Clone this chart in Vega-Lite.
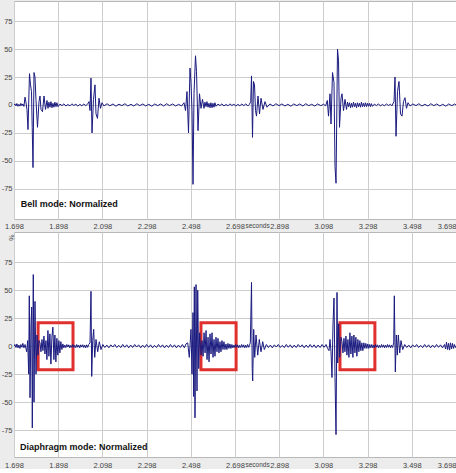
{
  "$schema": "https://vega.github.io/schema/vega-lite/v6.json",
  "background": "#ececec",
  "padding": {"left": 0, "top": 0, "right": 0, "bottom": 0},
  "bounds": "flush",
  "spacing": 13,
  "config": {
    "view": {"stroke": "#b8b8b8", "fill": "white"},
    "axis": {
      "labelFont": "Liberation Sans",
      "labelColor": "#444444",
      "labelOverlap": false,
      "gridColor": "#cdcdcd",
      "gridWidth": 1,
      "ticks": false,
      "domain": false,
      "titleFont": "Liberation Sans"
    }
  },
  "datasets": {
    "bell": [
      {"t":1.698,"v":0},{"t":1.702,"v":1},{"t":1.707,"v":-0.8},{"t":1.711,"v":1.3},{"t":1.716,"v":-1.2},{"t":1.720,"v":0.6},{"t":1.725,"v":-1},{"t":1.729,"v":1.4},{"t":1.734,"v":-0.6},{"t":1.738,"v":0.9},{"t":1.743,"v":-1.3},
      {"t":1.7478,"v":7},{"t":1.7523,"v":2},{"t":1.7568,"v":-4},{"t":1.7614,"v":-22},{"t":1.7681,"v":28},{"t":1.7727,"v":18},{"t":1.7772,"v":12},{"t":1.7804,"v":-20},{"t":1.7840,"v":-56},{"t":1.7885,"v":29},{"t":1.7930,"v":25},{"t":1.7976,"v":4},{"t":1.8043,"v":-20},{"t":1.8111,"v":3},{"t":1.8157,"v":8},{"t":1.8202,"v":-4},{"t":1.8270,"v":-6},{"t":1.8338,"v":8},{"t":1.8405,"v":-4},{"t":1.8473,"v":4},{"t":1.8519,"v":-3},
      {"t":1.856,"v":2.5},{"t":1.861,"v":-2},{"t":1.865,"v":3},{"t":1.870,"v":-2.5},{"t":1.874,"v":1.5},{"t":1.879,"v":-2},{"t":1.883,"v":2.5},{"t":1.888,"v":-1.5},{"t":1.892,"v":2},{"t":1.897,"v":-1.5},
      {"t":1.906,"v":0.8},{"t":1.915,"v":-0.6},{"t":1.924,"v":1},{"t":1.933,"v":-0.9},{"t":1.942,"v":0.5},{"t":1.951,"v":-0.8},{"t":1.960,"v":1},{"t":1.969,"v":-0.5},{"t":1.978,"v":0.7},{"t":1.987,"v":-1},{"t":1.996,"v":0.6},{"t":2.005,"v":-0.7},{"t":2.014,"v":0.8},{"t":2.023,"v":-0.6},{"t":2.032,"v":1},
      {"t":2.0374,"v":3},{"t":2.0419,"v":-5},{"t":2.0464,"v":24},{"t":2.0510,"v":-25},{"t":2.0577,"v":5},{"t":2.0645,"v":18},{"t":2.0691,"v":-8},{"t":2.0758,"v":-12},{"t":2.0826,"v":6},{"t":2.0894,"v":-3},{"t":2.0962,"v":2},
      {"t":2.105,"v":-0.9},{"t":2.119,"v":1.1},{"t":2.132,"v":-0.7},{"t":2.146,"v":0.9},{"t":2.159,"v":-1.1},{"t":2.173,"v":0.7},{"t":2.186,"v":-0.6},{"t":2.200,"v":1.1},{"t":2.213,"v":-0.9},{"t":2.227,"v":0.6},{"t":2.240,"v":-0.9},{"t":2.254,"v":1.1},{"t":2.267,"v":-0.6},{"t":2.281,"v":0.9},{"t":2.294,"v":-0.9},{"t":2.308,"v":0.6},{"t":2.321,"v":-1.1},{"t":2.335,"v":0.9},{"t":2.348,"v":-0.6},{"t":2.362,"v":0.9},{"t":2.375,"v":-0.9},{"t":2.389,"v":1.1},{"t":2.402,"v":-0.6},{"t":2.416,"v":0.9},{"t":2.429,"v":-0.9},{"t":2.443,"v":0.6},{"t":2.456,"v":-0.9},
      {"t":2.4673,"v":2},{"t":2.4741,"v":-5},{"t":2.4808,"v":12},{"t":2.4876,"v":-25},{"t":2.4944,"v":33},{"t":2.4989,"v":20},{"t":2.5035,"v":-5},{"t":2.5080,"v":-71},{"t":2.5125,"v":10},{"t":2.5193,"v":44},{"t":2.5238,"v":30},{"t":2.5306,"v":-23},{"t":2.5374,"v":10},{"t":2.5442,"v":-3},{"t":2.5510,"v":5},{"t":2.5578,"v":-3},
      {"t":2.562,"v":2.5},{"t":2.567,"v":-1.5},{"t":2.571,"v":3},{"t":2.576,"v":-2},{"t":2.580,"v":1.5},{"t":2.585,"v":-2.5},{"t":2.589,"v":2},{"t":2.594,"v":-2.5},{"t":2.598,"v":1.5},{"t":2.603,"v":-2},{"t":2.607,"v":2},{"t":2.612,"v":-1.2},
      {"t":2.621,"v":0.8},{"t":2.630,"v":-0.6},{"t":2.639,"v":1},{"t":2.648,"v":-0.9},{"t":2.657,"v":0.5},{"t":2.666,"v":-0.8},{"t":2.675,"v":1},{"t":2.684,"v":-0.5},{"t":2.693,"v":0.7},{"t":2.702,"v":-1},{"t":2.711,"v":0.6},{"t":2.720,"v":-0.7},{"t":2.729,"v":0.8},{"t":2.738,"v":-0.6},{"t":2.747,"v":1},{"t":2.756,"v":-0.9},{"t":2.763,"v":0.5},
      {"t":2.7691,"v":3},{"t":2.7727,"v":26},{"t":2.7772,"v":-29},{"t":2.7817,"v":21},{"t":2.7863,"v":18},{"t":2.7908,"v":-5},{"t":2.7953,"v":-10},{"t":2.8021,"v":8},{"t":2.8089,"v":-8},{"t":2.8157,"v":6},{"t":2.8247,"v":-4},{"t":2.8338,"v":3},{"t":2.8428,"v":-2},
      {"t":2.856,"v":0.9},{"t":2.870,"v":-0.9},{"t":2.883,"v":1.1},{"t":2.897,"v":-0.6},{"t":2.910,"v":0.9},{"t":2.924,"v":-0.9},{"t":2.937,"v":0.6},{"t":2.951,"v":-1.1},{"t":2.964,"v":0.9},{"t":2.978,"v":-0.6},{"t":2.991,"v":0.9},{"t":3.005,"v":-0.9},{"t":3.018,"v":1.1},{"t":3.032,"v":-0.6},{"t":3.045,"v":0.6},{"t":3.059,"v":-0.9},{"t":3.072,"v":0.9},{"t":3.086,"v":-0.6},{"t":3.099,"v":0.6},{"t":3.108,"v":-0.8},
      {"t":3.1157,"v":4},{"t":3.1211,"v":-10},{"t":3.1279,"v":10},{"t":3.1324,"v":-17},{"t":3.1392,"v":29},{"t":3.1460,"v":20},{"t":3.1505,"v":-55},{"t":3.1551,"v":-70},{"t":3.1618,"v":50},{"t":3.1664,"v":40},{"t":3.1709,"v":-20},{"t":3.1777,"v":6},{"t":3.1822,"v":10},{"t":3.1890,"v":-5},{"t":3.1958,"v":5},{"t":3.2026,"v":-4},
      {"t":3.207,"v":2.5},{"t":3.212,"v":-1.5},{"t":3.216,"v":2},{"t":3.221,"v":-2.5},{"t":3.225,"v":1.5},{"t":3.230,"v":-2},{"t":3.234,"v":2.5},{"t":3.239,"v":-1.5},{"t":3.243,"v":1.5},{"t":3.248,"v":-2.5},{"t":3.252,"v":2},{"t":3.257,"v":-1.5},{"t":3.261,"v":1.5},{"t":3.266,"v":-2},{"t":3.270,"v":2.5},{"t":3.275,"v":-1.5},{"t":3.279,"v":1.5},{"t":3.284,"v":-1.5},{"t":3.288,"v":2},{"t":3.293,"v":-1.5},{"t":3.297,"v":1.5},{"t":3.302,"v":-1.2},{"t":3.306,"v":1.5},{"t":3.311,"v":-1.5},{"t":3.315,"v":1.2},{"t":3.320,"v":-1.2},{"t":3.329,"v":0.8},{"t":3.338,"v":-0.6},{"t":3.347,"v":1},{"t":3.356,"v":-0.9},{"t":3.365,"v":0.5},{"t":3.374,"v":-0.8},{"t":3.383,"v":1},{"t":3.392,"v":-0.5},{"t":3.401,"v":0.7},{"t":3.408,"v":-0.8},
      {"t":3.4175,"v":3},{"t":3.4220,"v":25},{"t":3.4266,"v":-28},{"t":3.4333,"v":12},{"t":3.4401,"v":21},{"t":3.4469,"v":-8},{"t":3.4537,"v":-10},{"t":3.4604,"v":3},{"t":3.4672,"v":6.5},{"t":3.4740,"v":-3},{"t":3.4808,"v":2},
      {"t":3.490,"v":-0.9},{"t":3.503,"v":0.9},{"t":3.517,"v":-0.6},{"t":3.530,"v":1.1},{"t":3.544,"v":-0.9},{"t":3.557,"v":0.6},{"t":3.571,"v":-0.9},{"t":3.584,"v":1.1},{"t":3.598,"v":-0.6},{"t":3.611,"v":0.9},{"t":3.625,"v":-0.9},{"t":3.638,"v":0.6},{"t":3.652,"v":-1.1},{"t":3.665,"v":0.9},{"t":3.679,"v":-0.6},{"t":3.692,"v":0.9},{"t":3.698,"v":0}
    ],
    "dia": [
      {"t":1.698,"v":0},{"t":1.702,"v":1.5},{"t":1.707,"v":-1.2},{"t":1.711,"v":2},{"t":1.716,"v":-1.5},{"t":1.720,"v":1},{"t":1.725,"v":-2},{"t":1.729,"v":1.5},{"t":1.734,"v":-1},{"t":1.738,"v":2.5},{"t":1.743,"v":-1.5},{"t":1.748,"v":1.5},
      {"t":1.7555,"v":-5},{"t":1.7600,"v":5},{"t":1.7645,"v":-25},{"t":1.7672,"v":45},{"t":1.7704,"v":-46},{"t":1.7749,"v":20},{"t":1.7781,"v":35},{"t":1.7808,"v":-73},{"t":1.7853,"v":64},{"t":1.7885,"v":-50},{"t":1.7930,"v":40},{"t":1.7976,"v":-25},{"t":1.8021,"v":10},{"t":1.8066,"v":-8},{"t":1.8110,"v":5},
      {"t":1.8155,"v":3},{"t":1.820,"v":-5},{"t":1.8245,"v":6},{"t":1.829,"v":-4},{"t":1.8335,"v":9},{"t":1.838,"v":-7},{"t":1.8425,"v":5},{"t":1.847,"v":-12},{"t":1.8515,"v":14},{"t":1.856,"v":-9},{"t":1.8605,"v":11},{"t":1.865,"v":-16},{"t":1.8695,"v":8},{"t":1.874,"v":17},{"t":1.8785,"v":-12},{"t":1.883,"v":10},{"t":1.8875,"v":-14},{"t":1.892,"v":7},{"t":1.8965,"v":-8},{"t":1.901,"v":5},{"t":1.9055,"v":-6},{"t":1.910,"v":4},{"t":1.9145,"v":-3},{"t":1.919,"v":2},
      {"t":1.9235,"v":-1.5},{"t":1.928,"v":1},{"t":1.9325,"v":-1.3},{"t":1.937,"v":1.5},{"t":1.9415,"v":-0.8},{"t":1.946,"v":1.2},{"t":1.9505,"v":-1.5},{"t":1.955,"v":0.8},{"t":1.9595,"v":-1},{"t":1.964,"v":1.5},{"t":1.9685,"v":-1.2},{"t":1.973,"v":0.8},{"t":1.9775,"v":-1.3},{"t":1.982,"v":1.5},{"t":1.9865,"v":-1},{"t":1.991,"v":1},{"t":1.9955,"v":-1.5},{"t":2.000,"v":1.2},{"t":2.0045,"v":-0.8},{"t":2.009,"v":1.3},{"t":2.0135,"v":-1.2},{"t":2.018,"v":1},{"t":2.0225,"v":-1.5},{"t":2.027,"v":1.2},{"t":2.0315,"v":-1},{"t":2.036,"v":1.5},
      {"t":2.0419,"v":3},{"t":2.0464,"v":49},{"t":2.0496,"v":-27},{"t":2.0541,"v":5},{"t":2.0586,"v":15},{"t":2.0632,"v":-10},{"t":2.0691,"v":6},{"t":2.0767,"v":-5},{"t":2.0840,"v":4},{"t":2.0917,"v":-3},
      {"t":2.100,"v":1.5},{"t":2.109,"v":-1.2},{"t":2.118,"v":1},{"t":2.127,"v":-1.5},{"t":2.136,"v":1.2},{"t":2.145,"v":-0.8},{"t":2.154,"v":1.5},{"t":2.163,"v":-1.2},{"t":2.172,"v":0.8},{"t":2.181,"v":-1.3},{"t":2.190,"v":1.5},{"t":2.199,"v":-1},{"t":2.208,"v":1.2},{"t":2.217,"v":-1.5},{"t":2.226,"v":1},{"t":2.235,"v":-1.2},{"t":2.244,"v":1.5},{"t":2.253,"v":-0.8},{"t":2.262,"v":1.2},{"t":2.271,"v":-1.5},{"t":2.280,"v":1},{"t":2.289,"v":-1.2},{"t":2.298,"v":1.5},{"t":2.307,"v":-1},{"t":2.316,"v":1.2},{"t":2.325,"v":-1.5},{"t":2.334,"v":0.8},{"t":2.343,"v":-1.2},{"t":2.352,"v":1.5},{"t":2.361,"v":-1},{"t":2.370,"v":1.2},{"t":2.379,"v":-1.5},{"t":2.388,"v":1},{"t":2.397,"v":-1.2},{"t":2.406,"v":1.5},{"t":2.415,"v":-1},{"t":2.424,"v":1.2},{"t":2.433,"v":-1.5},{"t":2.442,"v":1},{"t":2.451,"v":-1.2},{"t":2.460,"v":1.5},{"t":2.469,"v":-1.5},{"t":2.476,"v":2},
      {"t":2.4840,"v":3},{"t":2.4912,"v":-10},{"t":2.4989,"v":15},{"t":2.5035,"v":-25},{"t":2.5080,"v":30},{"t":2.5112,"v":-45},{"t":2.5139,"v":53},{"t":2.5170,"v":-64},{"t":2.5216,"v":55},{"t":2.5261,"v":-40},{"t":2.5293,"v":50},{"t":2.5338,"v":-20},{"t":2.5383,"v":12},{"t":2.5442,"v":-8},
      {"t":2.549,"v":5},{"t":2.5535,"v":-9},{"t":2.558,"v":12},{"t":2.5625,"v":-6},{"t":2.567,"v":14},{"t":2.5715,"v":-12},{"t":2.576,"v":8},{"t":2.5805,"v":-14},{"t":2.585,"v":11},{"t":2.5895,"v":-7},{"t":2.594,"v":12},{"t":2.5985,"v":-10},{"t":2.603,"v":6},{"t":2.6075,"v":-9},{"t":2.612,"v":8},{"t":2.6165,"v":-5},{"t":2.621,"v":7},{"t":2.6255,"v":-6},{"t":2.630,"v":4},{"t":2.6345,"v":-5},{"t":2.639,"v":5},{"t":2.6435,"v":-3},{"t":2.648,"v":4},{"t":2.6525,"v":-3},{"t":2.657,"v":2},{"t":2.6615,"v":-3},{"t":2.666,"v":2.5},{"t":2.6705,"v":-2},{"t":2.675,"v":2},{"t":2.6795,"v":-2},{"t":2.684,"v":1.5},{"t":2.6885,"v":-1.5},{"t":2.693,"v":1},
      {"t":2.697,"v":-1.2},{"t":2.701,"v":1.5},{"t":2.706,"v":-1},{"t":2.710,"v":1.2},{"t":2.715,"v":-1.5},{"t":2.719,"v":0.8},{"t":2.724,"v":-1.2},{"t":2.728,"v":1.5},{"t":2.733,"v":-1},{"t":2.737,"v":1.2},{"t":2.742,"v":-1.5},{"t":2.746,"v":1},{"t":2.751,"v":-1.2},{"t":2.755,"v":1.5},{"t":2.760,"v":-1},{"t":2.764,"v":1.2},
      {"t":2.7673,"v":3},{"t":2.7727,"v":57},{"t":2.7759,"v":-20},{"t":2.7781,"v":-31},{"t":2.7826,"v":15},{"t":2.7872,"v":-10},{"t":2.7931,"v":10},{"t":2.8008,"v":-8},{"t":2.8080,"v":6},{"t":2.8157,"v":-5},{"t":2.8234,"v":4},{"t":2.8306,"v":-3},
      {"t":2.840,"v":1.5},{"t":2.849,"v":-1.2},{"t":2.858,"v":1},{"t":2.867,"v":-1.5},{"t":2.876,"v":1.2},{"t":2.885,"v":-0.8},{"t":2.894,"v":1.5},{"t":2.903,"v":-1.2},{"t":2.912,"v":0.8},{"t":2.921,"v":-1.3},{"t":2.930,"v":1.5},{"t":2.939,"v":-1},{"t":2.948,"v":1.2},{"t":2.957,"v":-1.5},{"t":2.966,"v":1},{"t":2.975,"v":-1.2},{"t":2.984,"v":1.5},{"t":2.993,"v":-0.8},{"t":3.002,"v":1.2},{"t":3.011,"v":-1.5},{"t":3.020,"v":1},{"t":3.029,"v":-1.2},{"t":3.038,"v":1.5},{"t":3.047,"v":-1},{"t":3.056,"v":1.2},{"t":3.065,"v":-1.5},{"t":3.074,"v":1},{"t":3.083,"v":-1.2},{"t":3.092,"v":1.5},{"t":3.101,"v":-1},{"t":3.110,"v":1.5},{"t":3.117,"v":-2},
      {"t":3.1234,"v":-4},{"t":3.1279,"v":6},{"t":3.1324,"v":-5},{"t":3.1369,"v":-28},{"t":3.1415,"v":20},{"t":3.1460,"v":43},{"t":3.1505,"v":-28},{"t":3.1551,"v":-79},{"t":3.1596,"v":48},{"t":3.1627,"v":-15},{"t":3.1672,"v":20},{"t":3.1718,"v":-10},{"t":3.1777,"v":8},
      {"t":3.182,"v":4},{"t":3.1865,"v":-6},{"t":3.191,"v":7},{"t":3.1955,"v":-5},{"t":3.200,"v":9},{"t":3.2045,"v":-8},{"t":3.209,"v":6},{"t":3.2135,"v":-10},{"t":3.218,"v":12},{"t":3.2225,"v":-7},{"t":3.227,"v":9},{"t":3.2315,"v":-10},{"t":3.236,"v":10},{"t":3.2405,"v":-6},{"t":3.245,"v":8},{"t":3.2495,"v":-9},{"t":3.254,"v":6},{"t":3.2585,"v":-5},{"t":3.263,"v":5},{"t":3.2675,"v":-4},{"t":3.272,"v":3},{"t":3.2765,"v":-4},{"t":3.281,"v":3},{"t":3.2855,"v":-2},{"t":3.290,"v":2.5},{"t":3.2945,"v":-2},{"t":3.299,"v":2},{"t":3.3035,"v":-2},{"t":3.308,"v":1.5},{"t":3.3125,"v":-1.5},{"t":3.317,"v":1.5},{"t":3.3215,"v":-1.5},{"t":3.326,"v":1},
      {"t":3.330,"v":-1.2},{"t":3.334,"v":1.5},{"t":3.339,"v":-1},{"t":3.343,"v":1.2},{"t":3.348,"v":-1.5},{"t":3.352,"v":0.8},{"t":3.357,"v":-1.2},{"t":3.361,"v":1.5},{"t":3.366,"v":-1},{"t":3.370,"v":1.2},{"t":3.375,"v":-1.5},{"t":3.379,"v":1},{"t":3.384,"v":-1.2},{"t":3.388,"v":1.5},{"t":3.393,"v":-1},{"t":3.397,"v":1.2},{"t":3.402,"v":-1.5},{"t":3.406,"v":1},{"t":3.411,"v":-1.2},
      {"t":3.4162,"v":3},{"t":3.4189,"v":45},{"t":3.4234,"v":-23},{"t":3.4280,"v":10},{"t":3.4325,"v":-8},{"t":3.4370,"v":10},{"t":3.4433,"v":-6},{"t":3.4492,"v":5},{"t":3.4569,"v":-3},
      {"t":3.466,"v":1.5},{"t":3.475,"v":-1.2},{"t":3.484,"v":1},{"t":3.493,"v":-1.5},{"t":3.502,"v":1.2},{"t":3.511,"v":-0.8},{"t":3.520,"v":1.5},{"t":3.529,"v":-1.2},{"t":3.538,"v":0.8},{"t":3.547,"v":-1.3},{"t":3.556,"v":1.5},{"t":3.565,"v":-1},{"t":3.574,"v":1.2},{"t":3.583,"v":-1.5},{"t":3.592,"v":1},{"t":3.601,"v":-1.2},{"t":3.610,"v":1.5},{"t":3.619,"v":-1},{"t":3.628,"v":1.2},{"t":3.637,"v":-1.5},{"t":3.646,"v":1.5},{"t":3.651,"v":-2.5},{"t":3.655,"v":3.5},{"t":3.660,"v":-3},{"t":3.664,"v":2.5},{"t":3.669,"v":-3.5},{"t":3.673,"v":3},{"t":3.678,"v":-2.5},{"t":3.682,"v":2.5},{"t":3.687,"v":-2},{"t":3.691,"v":1.5},{"t":3.696,"v":-1.2},{"t":3.698,"v":0}
    ],
    "boxes": [
      {"t0":1.807,"t1":1.965,"v0":-21,"v1":21},
      {"t0":2.544,"t1":2.703,"v0":-21,"v1":21},
      {"t0":3.173,"t1":3.331,"v0":-21,"v1":21}
    ]
  },
  "vconcat": [
    {
      "width": 442,
      "height": 218,
      "layer": [
        {
          "data": {"name": "bell"},
          "mark": {"type": "line", "color": "#1a1a80", "strokeWidth": 1, "clip": true},
          "encoding": {
            "x": {"field": "t", "type": "quantitative", "scale": {"domain": [1.698, 3.698], "nice": false, "zero": false},
              "axis": {"title": null, "labelOverlap": false, "tickCount": 30, "values": [1.698,1.898,2.098,2.298,2.498,2.698,2.798,2.898,3.098,3.298,3.498,3.698],
                "labelExpr": "abs(datum.value-2.798)<0.001 ? 'seconds' : format(datum.value, '.3f')",
                "labelFontSize": {"condition": {"test": "abs(datum.value-2.798)<0.001", "value": 6.5}, "value": 7.5},
                "labelPadding": 3,
                "labelAlign": {"condition": {"test": "datum.value > 3.69", "value": "right"}, "value": "center"},
                "gridOpacity": {"condition": {"test": "abs(datum.value-2.798)<0.001", "value": 0}, "value": 1}}},
            "y": {"field": "v", "type": "quantitative", "scale": {"domain": [-102, 93], "nice": false, "zero": false},
              "axis": {"title": null, "labelOverlap": false, "tickCount": 30, "values": [-75,-50,-25,0,25,50,75], "labelExpr": "datum.value < 0 ? '-' + abs(datum.value) : '' + datum.value", "labelFontSize": 7.5, "labelPadding": 2}}
          }
        },
        {
          "data": {"values": [{"t": 1.728, "v": -89, "label": "Bell mode: Normalized"}]},
          "mark": {"type": "text", "align": "left", "baseline": "middle", "font": "Liberation Sans", "fontWeight": "bold", "fontSize": 9, "color": "#111111"},
          "encoding": {
            "x": {"field": "t", "type": "quantitative"},
            "y": {"field": "v", "type": "quantitative"},
            "text": {"field": "label"}
          }
        }
      ]
    },
    {
      "width": 442,
      "height": 225,
      "layer": [
        {
          "data": {"name": "boxes"},
          "mark": {"type": "rect", "fill": null, "fillOpacity": 0, "stroke": "#e0302e", "strokeWidth": 3},
          "encoding": {
            "x": {"field": "t0", "type": "quantitative", "scale": {"domain": [1.698, 3.698], "nice": false, "zero": false},
              "axis": {"title": null, "labelOverlap": false, "tickCount": 30, "values": [1.698,1.898,2.098,2.298,2.498,2.698,2.798,2.898,3.098,3.298,3.498,3.698],
                "labelExpr": "abs(datum.value-2.798)<0.001 ? 'seconds' : format(datum.value, '.3f')",
                "labelFontSize": {"condition": {"test": "abs(datum.value-2.798)<0.001", "value": 6.5}, "value": 7.5},
                "labelPadding": 4,
                "labelAlign": {"condition": {"test": "datum.value > 3.69", "value": "right"}, "value": "center"},
                "gridOpacity": {"condition": {"test": "abs(datum.value-2.798)<0.001", "value": 0}, "value": 1}}},
            "x2": {"field": "t1"},
            "y": {"field": "v0", "type": "quantitative", "scale": {"domain": [-99, 102], "nice": false, "zero": false},
              "axis": {"title": "%", "labelOverlap": false, "tickCount": 30, "titleFontSize": 7, "titleFontWeight": "normal", "titleColor": "#555555", "titleAngle": 90, "titleX": -7, "titleY": 2, "titleAlign": "left", "values": [-75,-50,-25,0,25,50,75], "labelExpr": "datum.value < 0 ? '-' + abs(datum.value) : '' + datum.value", "labelFontSize": 7.5, "labelPadding": 2}},
            "y2": {"field": "v1"}
          }
        },
        {
          "data": {"name": "dia"},
          "mark": {"type": "line", "color": "#1a1a80", "strokeWidth": 1, "clip": true},
          "encoding": {
            "x": {"field": "t", "type": "quantitative"},
            "y": {"field": "v", "type": "quantitative"}
          }
        },
        {
          "data": {"values": [{"t": 1.725, "v": -90, "label": "Diaphragm mode: Normalized"}]},
          "mark": {"type": "text", "align": "left", "baseline": "middle", "font": "Liberation Sans", "fontWeight": "bold", "fontSize": 9, "color": "#111111"},
          "encoding": {
            "x": {"field": "t", "type": "quantitative"},
            "y": {"field": "v", "type": "quantitative"},
            "text": {"field": "label"}
          }
        }
      ]
    }
  ]
}
